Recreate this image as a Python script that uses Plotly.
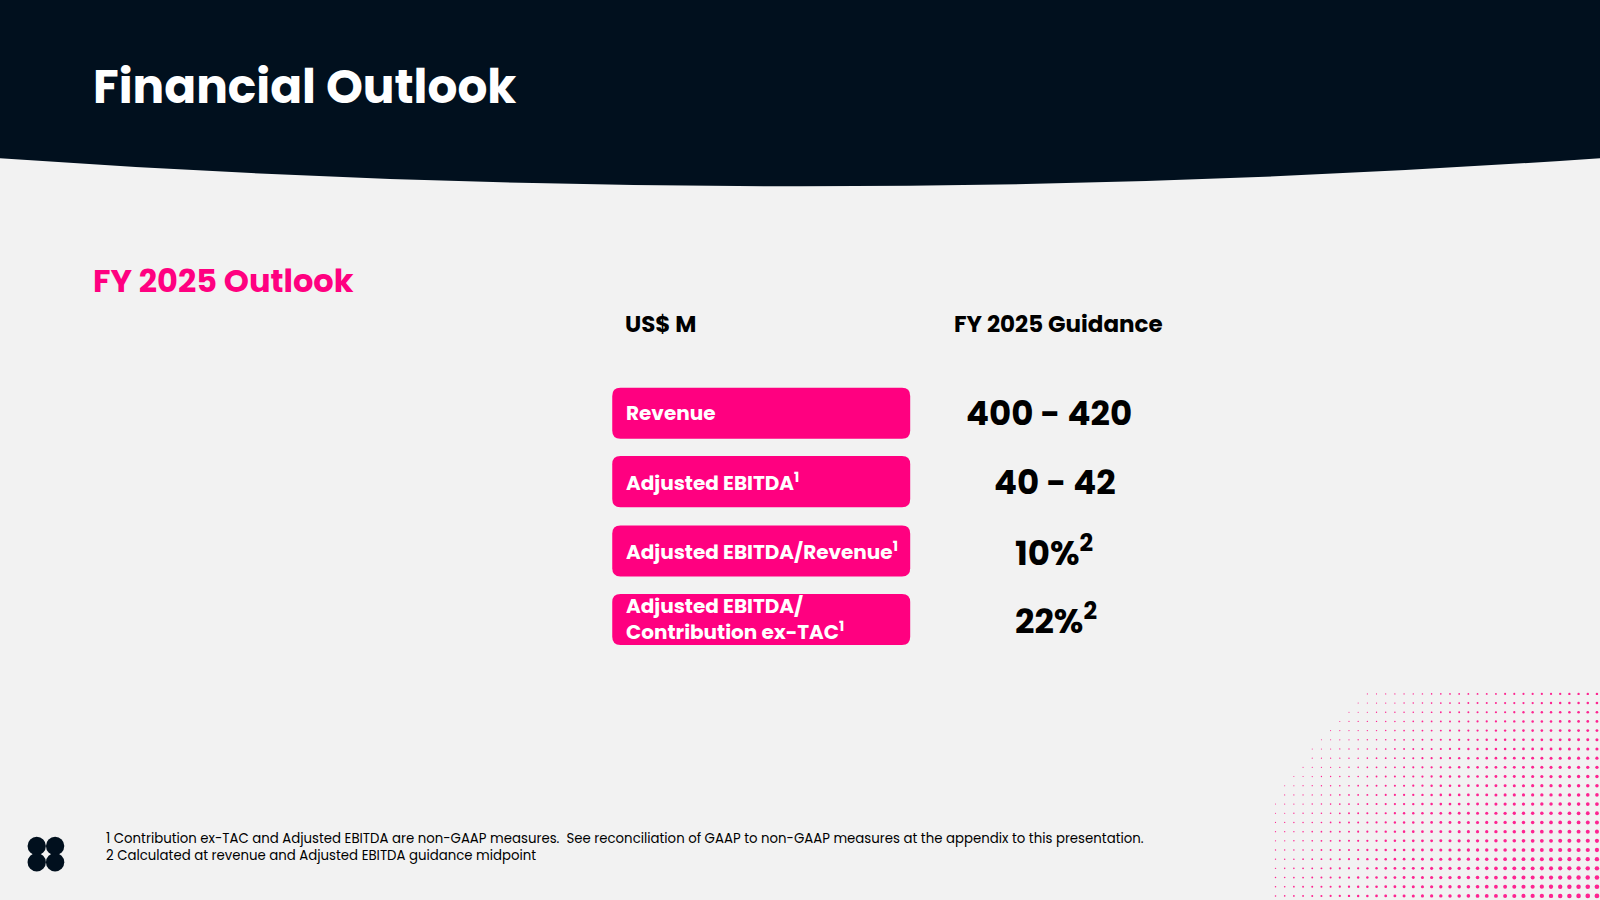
import plotly.graph_objects as go
import numpy as np

title = "Financial Outlook"
subtitle = "FY 2025 Outlook"
col_headers = ["US$ M", "FY 2025 Guidance"]
metrics = ["Revenue", "Adjusted EBITDA<sup>1</sup>", "Adjusted EBITDA/Revenue<sup>1</sup>",
           "Adjusted EBITDA/<br>Contribution ex-TAC<sup>1</sup>"]
guidance = ["400 - 420", "40 - 42", "10%<sup>2</sup>", "22%<sup>2</sup>"]
footnotes = ["1 Contribution ex-TAC and Adjusted EBITDA are non-GAAP measures.  See reconciliation of GAAP to non-GAAP measures at the appendix to this presentation.",
             "2 Calculated at revenue and Adjusted EBITDA guidance midpoint"]

W, H = 1568, 882
PINK = "#ff0080"
NAVY = "#01101e"
FONT = "Poppins, Inter, 'Open Sans', sans-serif"

fig = go.Figure()
shapes = []
ann = []

shapes.append(dict(type="path", layer="below",
                   path=f"M0,0 L{W},0 L{W},155 Q{W/2},210 0,155 Z",
                   fillcolor=NAVY, line=dict(width=0)))

def rrect(x0, y0, x1, y1, r):
    return (f"M{x0+r},{y0} L{x1-r},{y0} Q{x1},{y0} {x1},{y0+r} L{x1},{y1-r} Q{x1},{y1} {x1-r},{y1} "
            f"L{x0+r},{y1} Q{x0},{y1} {x0},{y1-r} L{x0},{y0+r} Q{x0},{y0} {x0+r},{y0} Z")

ann.append(dict(x=89, y=85, text=f"<b>{title}</b>", font=dict(size=47, color="white", family=FONT),
                xanchor="left", yanchor="middle", showarrow=False))
ann.append(dict(x=89, y=275, text=f"<b>{subtitle}</b>", font=dict(size=32, color=PINK, family=FONT),
                xanchor="left", yanchor="middle", showarrow=False))
ann.append(dict(x=611, y=318, text=f"<b>{col_headers[0]}</b>", font=dict(size=23, color="black", family=FONT),
                xanchor="left", yanchor="middle", showarrow=False))
ann.append(dict(x=1037, y=318, text=f"<b>{col_headers[1]}</b>", font=dict(size=23, color="black", family=FONT),
                xanchor="center", yanchor="middle", showarrow=False))

rows_y = [405, 472, 540, 607]
val_x = [1028, 1034, 1033, 1035]
for i, (m, g) in enumerate(zip(metrics, guidance)):
    yc = rows_y[i]
    shapes.append(dict(type="path", path=rrect(600, yc-25, 892, yc+25, 8), fillcolor=PINK, line=dict(width=0)))
    ann.append(dict(x=612, y=yc, text=f"<b>{m}</b>", font=dict(size=20, color="white", family=FONT),
                    xanchor="left", yanchor="middle", showarrow=False, align="left"))
    ann.append(dict(x=val_x[i], y=yc, text=f"<b>{g}</b>", font=dict(size=34, color="black", family=FONT),
                    xanchor="center", yanchor="middle", showarrow=False))

for j, f in enumerate(footnotes):
    ann.append(dict(x=102, y=822 + 16*j, text=f, font=dict(size=13.3, color="black", family=FONT),
                    xanchor="left", yanchor="middle", showarrow=False))

for dx, dy in [(-9, -8), (9, -8), (-9, 8), (9, 8)]:
    shapes.append(dict(type="circle", x0=45+dx-9, x1=45+dx+9, y0=837+dy-9, y1=837+dy+9,
                       fillcolor=NAVY, line=dict(width=0)))

xs, ys, ss = [], [], []
for gx in range(1250, W + 1, 9):
    for gy in range(680, H + 1, 9):
        d = np.hypot(W + 120 - gx, H + 180 - gy)
        t = 1 - (d - 200) / 320
        if 0 < t <= 1:
            xs.append(gx); ys.append(gy); ss.append(1 + 4 * t)
fig.add_trace(go.Scatter(x=xs, y=ys, mode="markers", hoverinfo="skip",
                         marker=dict(size=ss, color=PINK, opacity=0.85, line=dict(width=0))))

fig.update_layout(width=1600, height=900, margin=dict(l=0, r=0, t=0, b=0),
                  paper_bgcolor="#f2f2f2", plot_bgcolor="#f2f2f2", showlegend=False,
                  shapes=shapes, annotations=ann,
                  xaxis=dict(range=[0, W], visible=False, fixedrange=True),
                  yaxis=dict(range=[H, 0], visible=False, fixedrange=True))
fig.write_html("out.html", config={"displayModeBar": False})

with open("out.html", encoding="utf-8") as fh:
    html = fh.read()
html = html.replace("<body>", "<body style=\"margin:0;background:#f2f2f2;overflow:hidden\">", 1)
with open("out.html", "w", encoding="utf-8") as fh:
    fh.write(html)
